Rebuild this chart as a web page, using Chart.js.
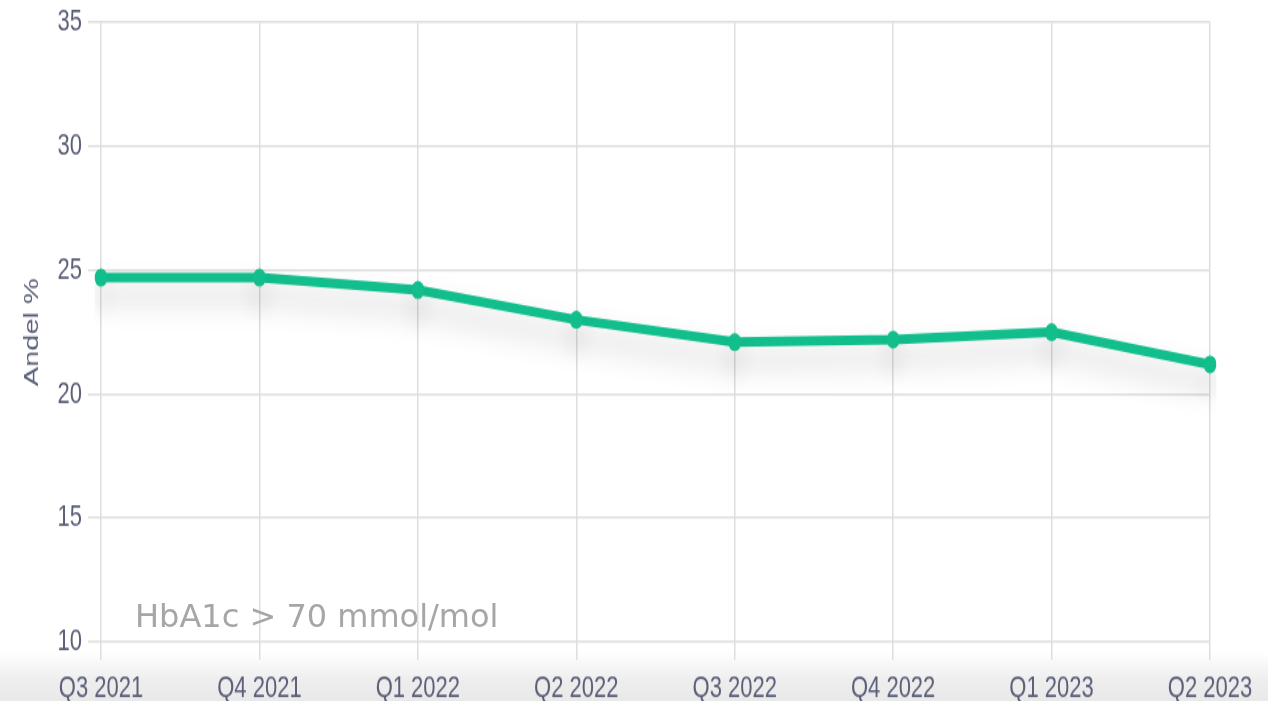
<!DOCTYPE html>
<html>
<head>
<meta charset="utf-8">
<script src="https://cdn.jsdelivr.net/npm/chart.js@4/dist/chart.umd.min.js"></script>
<style>
  html, body { margin: 0; padding: 0; background: #fff; }
  #page { position: relative; width: 1268px; height: 701px; overflow: hidden; }
  #band { position: absolute; left: 0; top: 652px; width: 1268px; height: 49px;
          background: linear-gradient(to bottom, rgba(235,235,235,0) 0%, #ededed 60%, #e9e9e9 100%); }
  #chart { position: absolute; left: 0; top: -4px; display: block; width: 1268px; height: 520px;
           transform: scaleY(1.38); transform-origin: 0 0; }
  #note { position: absolute; left: 135px; top: 600px; font-family: "DejaVu Sans", sans-serif;
          font-size: 32px; line-height: 32px; color: #a6a6a6; white-space: nowrap; }
</style>
</head>
<body>
<div id="page">
  <div id="band"></div>
  <canvas id="chart" width="1268" height="520"></canvas>
  <div id="note">HbA1c &gt; 70 mmol/mol</div>
</div>
<script>
const quarters = ['Q3 2021', 'Q4 2021', 'Q1 2022', 'Q2 2022', 'Q3 2022', 'Q4 2022', 'Q1 2023', 'Q2 2023'];
const andel = [24.7, 24.7, 24.2, 23.0, 22.1, 22.2, 22.5, 21.2];
const yMin = 10;
const yMax = 35;
const yStep = 5;

const textColor = '#5b5f77';
const gridColor = '#dedede';

// soft drop shadow under the line
const lineShadow = {
    id: 'lineShadow',
    beforeDatasetDraw(chart) {
        const ctx = chart.ctx;
        ctx.save();
        ctx.shadowColor = 'rgba(0, 0, 0, 0.22)';
        ctx.shadowBlur = 22;
        ctx.shadowOffsetY = 13;
    },
    afterDatasetDraw(chart) {
        chart.ctx.restore();
    }
};

new Chart(document.getElementById('chart'), {
    type: 'line',
    data: {
        labels: quarters,
        datasets: [{
            label: 'Andel %',
            data: andel,
            borderColor: '#12be8c',
            backgroundColor: '#12be8c',
            borderWidth: 7,
            pointRadius: 6.5,
            pointBorderWidth: 0,
            pointHoverRadius: 6.5,
            tension: 0,
            fill: false
        }]
    },
    options: {
        responsive: false,
        animation: false,
        devicePixelRatio: 1,
        layout: { autoPadding: false, padding: { top: 13, right: 58, left: 0, bottom: 0 } },
        plugins: {
            legend: { display: false },
            tooltip: { enabled: false }
        },
        scales: {
            x: {
                offset: false,
                afterFit: (s) => { s.height = 52; },
                grid: { color: gridColor, lineWidth: 1.5, tickLength: 13 },
                border: { display: false },
                ticks: {
                    color: textColor,
                    font: { family: 'Liberation Sans', size: 22 },
                    padding: 8,
                    maxRotation: 0,
                    autoSkip: false
                }
            },
            y: {
                min: yMin,
                max: yMax,
                afterFit: (s) => { s.width = 101; },
                grid: { color: gridColor, lineWidth: 1.5, tickLength: 13 },
                border: { display: false },
                ticks: {
                    stepSize: yStep,
                    color: textColor,
                    font: { family: 'Liberation Sans', size: 22 },
                    padding: 6
                },
                title: {
                    display: true,
                    text: 'Andel %',
                    color: textColor,
                    font: { family: 'Liberation Sans', size: 21 },
                    padding: { top: 20, bottom: 0 }
                }
            }
        }
    },
    plugins: [lineShadow]
});
</script>
</body>
</html>
